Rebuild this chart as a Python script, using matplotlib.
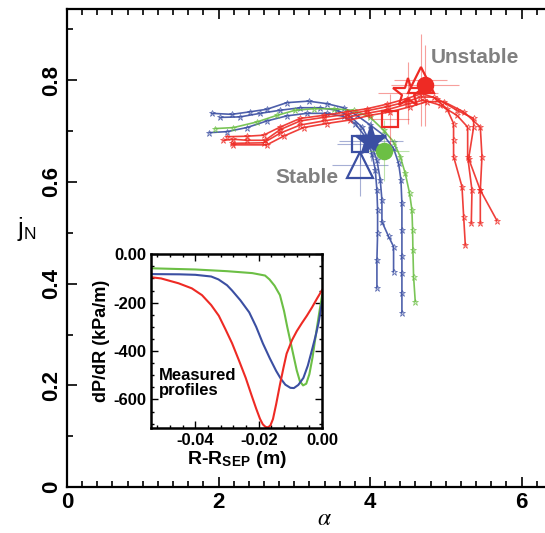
import matplotlib
matplotlib.use("Agg")
import matplotlib.pyplot as plt
from matplotlib.ticker import MultipleLocator, FixedLocator, FixedFormatter

plt.rcParams["font.family"] = ["Liberation Sans", "DejaVu Sans"]
plt.rcParams["mathtext.fontset"] = "stix"

ROT = "#ee2a24"
BLAU = "#3b4fa2"
GRUEN = "#6cbf45"

# alpha / j_N Pfade
blau1_a = [1.911, 2.175, 2.417, 2.638, 2.902, 3.188, 3.430, 3.650, 3.826, 4.003, 4.179, 4.311, 4.377, 4.408, 4.421, 4.421, 4.421, 4.421, 4.421, 4.421]
blau1_j = [0.735, 0.733, 0.738, 0.743, 0.756, 0.759, 0.754, 0.746, 0.731, 0.712, 0.692, 0.666, 0.637, 0.604, 0.558, 0.506, 0.454, 0.421, 0.382, 0.343]
blau2_a = [1.880, 2.110, 2.374, 2.638, 2.902, 3.166, 3.430, 3.650, 3.804, 3.937, 4.025, 4.069, 4.091, 4.100, 4.100, 4.091, 4.091]
blau2_j = [0.697, 0.699, 0.707, 0.720, 0.730, 0.735, 0.735, 0.729, 0.715, 0.689, 0.656, 0.624, 0.584, 0.545, 0.499, 0.447, 0.392]
blau3_a = [2.021, 2.285, 2.550, 2.814, 3.078, 3.342, 3.562, 3.738, 3.893, 4.003, 4.091, 4.135, 4.157, 4.157, 4.245, 4.311, 4.311]
blau3_j = [0.727, 0.728, 0.735, 0.741, 0.746, 0.746, 0.741, 0.729, 0.708, 0.679, 0.643, 0.604, 0.565, 0.522, 0.493, 0.473, 0.424]
gruen_a = [1.955, 2.197, 2.506, 2.770, 3.012, 3.254, 3.518, 3.782, 4.003, 4.179, 4.311, 4.399, 4.465, 4.522, 4.553, 4.562, 4.566, 4.575, 4.597]
gruen_j = [0.705, 0.707, 0.718, 0.731, 0.741, 0.744, 0.744, 0.741, 0.727, 0.702, 0.679, 0.650, 0.617, 0.578, 0.545, 0.506, 0.467, 0.414, 0.365]
rot1_a = [2.065, 2.197, 2.374, 2.616, 2.814, 3.078, 3.386, 3.694, 3.959, 4.223, 4.487, 4.663, 4.839, 5.015, 5.103, 5.103, 5.103, 5.214, 5.236, 5.258]
rot1_j = [0.682, 0.684, 0.682, 0.682, 0.703, 0.720, 0.727, 0.733, 0.740, 0.748, 0.758, 0.767, 0.767, 0.744, 0.715, 0.682, 0.650, 0.591, 0.532, 0.476]
rot2_a = [2.175, 2.594, 2.814, 3.078, 3.386, 3.694, 3.959, 4.223, 4.487, 4.707, 4.927, 5.148, 5.289, 5.289, 5.346, 5.337]
rot2_j = [0.676, 0.677, 0.696, 0.712, 0.720, 0.727, 0.735, 0.742, 0.753, 0.761, 0.751, 0.731, 0.708, 0.650, 0.584, 0.519]
rot3_a = [2.110, 2.374, 2.594, 2.814, 3.078, 3.386, 3.694, 3.959, 4.223, 4.487, 4.685, 4.883, 5.148, 5.368, 5.368, 5.302, 5.456, 5.456]
rot3_j = [0.689, 0.690, 0.692, 0.708, 0.725, 0.731, 0.738, 0.744, 0.753, 0.764, 0.774, 0.764, 0.741, 0.725, 0.708, 0.646, 0.584, 0.519]
rot4_a = [2.197, 2.638, 2.858, 3.122, 3.430, 3.738, 4.003, 4.267, 4.531, 4.751, 4.971, 5.236, 5.456, 5.478, 5.456, 5.676]
rot4_j = [0.673, 0.673, 0.690, 0.707, 0.715, 0.722, 0.731, 0.738, 0.748, 0.758, 0.758, 0.738, 0.708, 0.650, 0.584, 0.524]

# grosse Marker: (alpha, j, xerr, yerr), Reihenfolge = Zeichenreihenfolge
marker_rot = {"s": (4.27, 0.723, 0.25, 0.05), "^": (4.67, 0.800, 0.35, 0.09),
              "*": (4.50, 0.775, 0.40, 0.06), "o": (4.73, 0.790, 0.45, 0.08)}
marker_blau = {"^": (3.87, 0.633, 0.37, 0.06), "s": (3.87, 0.675, 0.30, 0.04),
               "*": (4.01, 0.681, 0.42, 0.04)}
marker_gruen = {"o": (4.19, 0.661, 0.33, 0.06)}

# Inset: dP/dR Profile
ins_gruen_x = [-0.054, -0.040, -0.030, -0.022, -0.018, -0.0166, -0.015, -0.0133, -0.012, -0.011, -0.010, -0.009, -0.008, -0.007, -0.006, -0.005, -0.004, -0.003, -0.002, -0.001, 0.0]
ins_gruen_y = [-58, -63, -70, -78, -88, -104, -130, -169, -235, -300, -360, -420, -480, -525, -542, -535, -495, -425, -335, -250, -170]
ins_blau_x = [-0.054, -0.045, -0.040, -0.035, -0.0327, -0.0300, -0.0284, -0.0258, -0.023, -0.0208, -0.0187, -0.0165, -0.0145, -0.013, -0.0116, -0.0100, -0.0089, -0.0075, -0.0059, -0.0045, -0.0032, -0.0020, -0.0011, 0.0]
ins_blau_y = [-82, -83, -85, -92, -104, -128, -150, -190, -240, -300, -368, -430, -482, -515, -539, -552, -553, -540, -511, -460, -396, -335, -283, -196]
ins_rot_x = [-0.054, -0.0508, -0.0453, -0.0411, -0.0379, -0.0350, -0.0326, -0.0305, -0.0284, -0.0262, -0.0241, -0.0222, -0.0208, -0.0196, -0.0187, -0.0178, -0.0170, -0.0163, -0.0155, -0.0145, -0.0133, -0.0122, -0.0112, -0.0095, -0.0080, -0.0064, -0.0048, -0.0032, -0.0016, 0.0]
ins_rot_y = [-95, -100, -120, -141, -169, -210, -254, -310, -368, -440, -511, -585, -638, -680, -703, -714, -715, -707, -681, -620, -539, -470, -411, -355, -318, -285, -254, -220, -183, -148]

fig = plt.figure(figsize=(5.45, 5.33), dpi=100)
ax = fig.add_axes([0.123, 0.086, 0.877, 0.897])

linien = [
    (blau1_a, blau1_j, BLAU), (blau2_a, blau2_j, BLAU), (blau3_a, blau3_j, BLAU),
    (gruen_a, gruen_j, GRUEN),
    (rot1_a, rot1_j, ROT), (rot2_a, rot2_j, ROT), (rot3_a, rot3_j, ROT), (rot4_a, rot4_j, ROT),
]
for a, j, c in linien:
    ax.plot(a, j, color=c, lw=1.2, marker="*", ms=5, mfc="none", mec=c, mew=0.5, alpha=0.9, zorder=2)

for gruppe, c, fuell in [(marker_rot, ROT, {"o"}), (marker_blau, BLAU, {"*"}), (marker_gruen, GRUEN, {"o"})]:
    for m, (a, j, xe, ye) in gruppe.items():
        ax.errorbar(a, j, xerr=xe, yerr=ye, fmt="none", ecolor=c, elinewidth=0.8, alpha=0.45, zorder=3)
        gr = {"o": 11, "^": 19, "*": 22, "s": 12}[m]
        ax.plot(a, j, marker=m, ms=gr, color=c, mfc=c if m in fuell else "none",
                mec=c, mew=1.6, zorder=4, linestyle="none")

ax.text(5.39, 0.845, "Unstable", color="#808080", fontsize=15, fontweight="bold", ha="center", va="center")
ax.text(3.17, 0.608, "Stable", color="#808080", fontsize=15, fontweight="bold", ha="center", va="center")

ax.set_xlim(0, 6.31)
ax.set_ylim(0, 0.94)
ax.xaxis.set_major_locator(MultipleLocator(2))
ax.xaxis.set_minor_locator(MultipleLocator(0.2))
ax.yaxis.set_major_locator(FixedLocator([0, 0.2, 0.4, 0.6, 0.8]))
ax.yaxis.set_major_formatter(FixedFormatter(["0", "0.2", "0.4", "0.6", "0.8"]))
ax.yaxis.set_minor_locator(MultipleLocator(0.1))
ax.tick_params(which="both", direction="in", top=True, right=False, width=1.2)
ax.tick_params(which="major", length=7, labelsize=16)
ax.tick_params(which="minor", length=4)
for lab in ax.get_xticklabels() + ax.get_yticklabels():
    lab.set_fontweight("bold")
for lab in ax.get_yticklabels():
    lab.set_rotation(90)
    lab.set_va("center")
ax.spines["right"].set_visible(False)
for s in ["left", "bottom", "top"]:
    ax.spines[s].set_linewidth(1.6)
ax.set_xlabel(r"$\alpha$", fontsize=17, va="center")
ax.xaxis.set_label_coords(0.538, -0.066)
ax.set_ylabel(r"j$_{\mathregular{N}}$", fontsize=18, rotation=0, va="center", ha="center")
ax.yaxis.set_label_coords(-0.085, 0.54)

ins = fig.add_axes([0.277, 0.197, 0.314, 0.326])
ins.plot(ins_gruen_x, ins_gruen_y, color=GRUEN, lw=1.5)
ins.plot(ins_blau_x, ins_blau_y, color=BLAU, lw=1.5)
ins.plot(ins_rot_x, ins_rot_y, color=ROT, lw=1.5)
ins.set_xlim(-0.054, 0.0)
ins.set_ylim(-718, 0)
ins.xaxis.set_major_locator(FixedLocator([-0.04, -0.02, 0.0]))
ins.xaxis.set_major_formatter(FixedFormatter(["-0.04", "-0.02", "0.00"]))
ins.xaxis.set_minor_locator(MultipleLocator(0.004))
ins.yaxis.set_major_locator(FixedLocator([0, -200, -400, -600]))
ins.yaxis.set_major_formatter(FixedFormatter(["0.00", "-200", "-400", "-600"]))
ins.yaxis.set_minor_locator(MultipleLocator(50))
ins.tick_params(which="both", direction="in", top=True, right=True, width=1.0)
ins.tick_params(which="major", length=5, labelsize=12)
ins.tick_params(which="minor", length=2.5)
for lab in ins.get_xticklabels() + ins.get_yticklabels():
    lab.set_fontweight("bold")
for s in ins.spines.values():
    s.set_linewidth(1.8)
ins.set_xlabel(r"R-R$_{\mathregular{SEP}}$ (m)", fontsize=14, fontweight="bold", labelpad=1)
ins.set_ylabel("dP/dR (kPa/m)", fontsize=13, fontweight="bold", labelpad=2)
ins.text(-0.0515, -530, "Measured\nprofiles", fontsize=12, fontweight="bold", va="center", ha="left", linespacing=1.0)

fig.savefig("out.png", dpi=100)
